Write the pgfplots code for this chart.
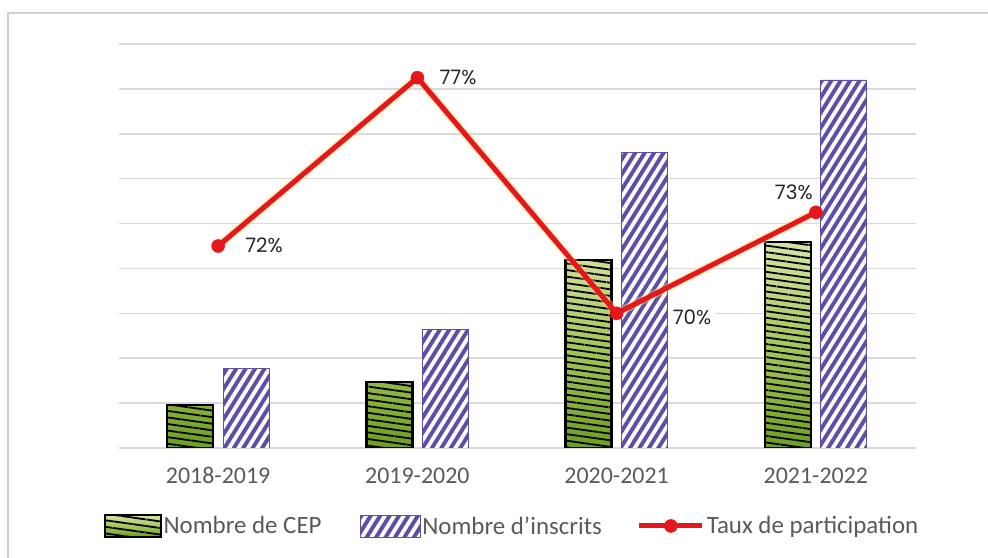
\documentclass[border=0pt]{standalone}
\usepackage{pgfplots}
\pgfplotsset{compat=1.18}
\usetikzlibrary{patterns.meta}
\usepackage{fontspec}
\setmainfont{Carlito}
\newfontfamily\lab{Poppins}
\definecolor{gridc}{HTML}{D9D9D9}
\definecolor{txtc}{HTML}{595959}
\definecolor{cepLight}{HTML}{D6E4A6}
\definecolor{cepMid}{HTML}{A6C65C}
\definecolor{cepGreen}{HTML}{6E9E22}
\definecolor{insPurple}{HTML}{5E4FA6}
\definecolor{lineRed}{HTML}{E5161C}
\definecolor{glowC}{HTML}{F5D76E}
\definecolor{frameC}{HTML}{D0D0DA}
\tikzset{
 cepshade/.style={draw=none, top color=cepLight, bottom color=cepGreen, middle color=cepMid},
 ceppat/.style={draw=black, line width=2.5bp, pattern={Lines[angle=-8,distance=6.5bp,line width=1.8bp]}, pattern color=black},
 cepstyle/.style={draw=black, line width=2bp, top color=cepLight, bottom color=cepGreen, middle color=cepMid,
   postaction={pattern={Lines[angle=-8,distance=6.5bp,line width=1.8bp]}, pattern color=black}},
 insstyle/.style={fill=insPurple, draw=insPurple, line width=0.8bp,
   postaction={pattern={Lines[angle=58,distance=8bp,line width=3.8bp]}, pattern color=white}},
 inspat/.style={draw=insPurple, line width=0.8bp, pattern={Lines[angle=58,distance=8bp,line width=3.8bp]}, pattern color=white},
}
\pgfplotsset{
 redlegend/.style={legend image code/.code={\draw[mark repeat=2, mark phase=2, ##1] plot coordinates {(0bp,0bp) (31.5bp,0bp) (63bp,0bp)};}},
 ceplegend/.style={legend image code/.code={\path[cepstyle] (0bp,-11bp) rectangle (56bp,11bp);}},
 inslegend/.style={legend image code/.code={\path[insstyle] (0bp,-11bp) rectangle (60bp,11bp);}},
}
\begin{document}
\begin{tikzpicture}
\path[use as bounding box] (0bp,0bp) rectangle (988bp,558bp);
\draw[frameC, line width=1.5bp] (8bp,0bp) -- (8bp,545bp) -- (988bp,545bp);
\begin{axis}[
 at={(118.5bp,110bp)}, anchor=south west, scale only axis, width=797bp, height=404bp,
 xmin=-0.5, xmax=3.5, ymin=0, ymax=9,
 xtick={0,1,2,3}, xticklabels={2018-2019,2019-2020,2020-2021,2021-2022},
 ytick={0,1,2,3,4,5,6,7,8,9}, yticklabel=\empty,
 ymajorgrids, major grid style={draw=gridc, line width=1.6bp},
 axis line style={draw=none}, major tick length=0pt,
 xticklabel style={font=\fontsize{24}{27}\selectfont, text=txtc, yshift=-16bp},
 ybar, bar width=46bp,
]
\addplot[cepshade, bar shift=-28bp] coordinates {(0,0.96) (1,1.47) (2,4.19) (3,4.59)};
\addplot[ceppat, bar shift=-28bp] coordinates {(0,0.96) (1,1.47) (2,4.19) (3,4.59)};
\addplot[fill=insPurple, draw=none, bar shift=28bp] coordinates {(0,1.78) (1,2.65) (2,6.59) (3,8.2)};
\addplot[inspat, bar shift=28bp] coordinates {(0,1.78) (1,2.65) (2,6.59) (3,8.2)};
\end{axis}
\begin{axis}[
 at={(118.5bp,110bp)}, anchor=south west, scale only axis, width=797bp, height=404bp,
 xmin=-0.5, xmax=3.5, ymin=66, ymax=78, hide axis, clip=false,
 legend columns=3,
 legend style={draw=none, fill=none, inner sep=0pt, at={(rel axis cs:-0.019,-0.193)}, anchor=west,
   font=\fontsize{25}{28}\selectfont, text=txtc, nodes={inner xsep=2bp, inner ysep=1bp},
   /tikz/column 2/.style={column sep=36bp}, /tikz/column 4/.style={column sep=33bp}},
 legend cell align=left,
]
\addlegendimage{ceplegend}
\addlegendentry{Nombre de CEP}
\addlegendimage{inslegend}
\addlegendentry{Nombre d'inscrits}
\addplot[draw=glowC, opacity=0.45, line width=8.5bp, forget plot] coordinates {(0,72) (1,77) (2,70) (3,73)};
\addplot[draw=lineRed, line width=5bp, mark=*, mark size=6.5bp, mark options={fill=lineRed, draw=lineRed, line width=0.5bp}, redlegend]
  coordinates {(0,72) (1,77) (2,70) (3,73)};
\addlegendentry{Taux de participation}
\node[anchor=west, font=\lab\fontsize{20}{23}\selectfont, text=black!85, inner sep=1bp, xshift=26bp, yshift=1bp] at (axis cs:0,72) {72\%};
\node[anchor=west, font=\lab\fontsize{20}{23}\selectfont, text=black!85, inner sep=1bp, xshift=21bp, yshift=0bp] at (axis cs:1,77) {77\%};
\node[anchor=west, font=\lab\fontsize{20}{23}\selectfont, text=black!85, inner sep=4bp, fill=white, xshift=52bp, yshift=-4bp] at (axis cs:2,70) {70\%};
\node[anchor=east, font=\lab\fontsize{20}{23}\selectfont, text=black!85, inner sep=1bp, xshift=-2bp, yshift=20bp] at (axis cs:3,73) {73\%};
\end{axis}
\end{tikzpicture}
\end{document}
